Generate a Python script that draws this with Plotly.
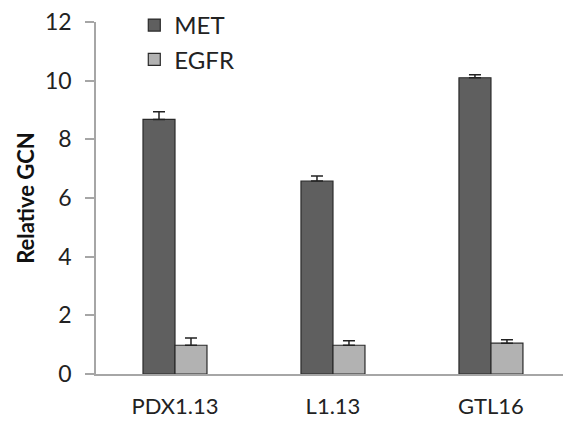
import plotly.graph_objects as go

categories = ["PDX1.13", "L1.13", "GTL16"]
met_values = [8.68, 6.58, 10.1]
met_errors = [0.26, 0.17, 0.1]
egfr_values = [0.98, 0.98, 1.05]
egfr_errors = [0.25, 0.15, 0.12]

fig = go.Figure()
fig.add_trace(go.Bar(
    name="MET", x=categories, y=met_values, legendgroup="a",
    marker=dict(color="#5f5f5f", line=dict(color="#2a2a2a", width=1.2)),
    error_y=dict(type="data", array=met_errors, symmetric=False, arrayminus=[0]*3,
                 color="#222222", thickness=1.5, width=6),
))
fig.add_trace(go.Bar(
    name="EGFR", x=categories, y=egfr_values, legendgroup="b",
    marker=dict(color="#b2b2b2", line=dict(color="#2a2a2a", width=1.2)),
    error_y=dict(type="data", array=egfr_errors, symmetric=False, arrayminus=[0]*3,
                 color="#222222", thickness=1.5, width=6),
))

fig.update_layout(
    width=563, height=428,
    margin=dict(l=96, r=0, t=22, b=54),
    paper_bgcolor="white", plot_bgcolor="white",
    barmode="group", bargap=0.595, bargroupgap=0,
    font=dict(family="Lato, Open Sans, sans-serif", size=22, color="#222222"),
    showlegend=True,
    legend=dict(x=0.082, xanchor="left", y=1.054, yanchor="top", yref="paper",
                tracegroupgap=16, font=dict(size=24), bgcolor="rgba(0,0,0,0)",
                traceorder="normal", itemwidth=30),
    xaxis=dict(range=[-0.5, 2.456], showline=True, linecolor="#a6a6a6", linewidth=1.5,
               ticks="", showgrid=False, zeroline=False,
               tickfont=dict(size=22, color="#222222"), ticklabelstandoff=12),
    yaxis=dict(range=[0, 12], dtick=2, showline=True, linecolor="#a6a6a6", linewidth=1.5,
               ticks="outside", ticklen=9, tickcolor="#a6a6a6", tickwidth=1.5,
               showgrid=False, zeroline=False,
               tickfont=dict(size=23, color="#222222"), ticklabelstandoff=9,
               title=dict(text="<b>Relative GCN</b>", font=dict(size=22, color="#111111"),
                          standoff=4)),
)

fig.write_html("out.html")
